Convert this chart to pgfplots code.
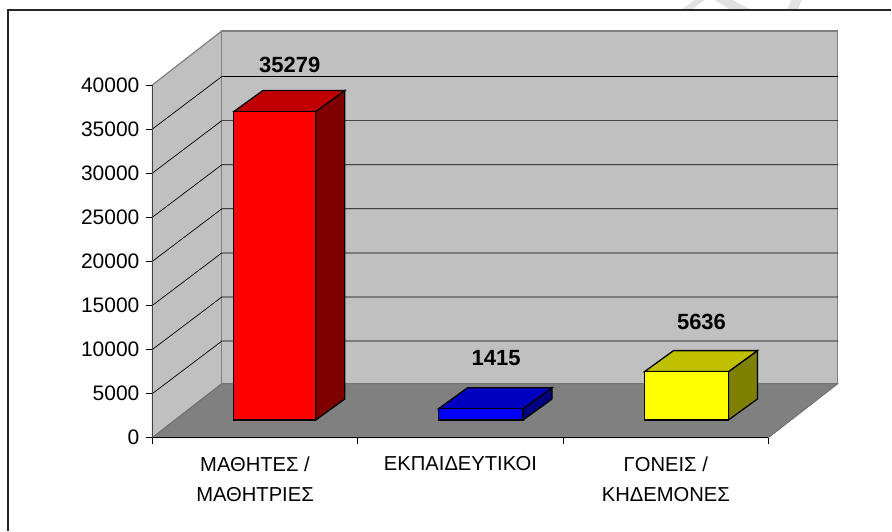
\documentclass[border=0pt]{standalone}
\usepackage{fontspec}
\setmainfont{Liberation Sans}
\usepackage{pgfplots}
\pgfplotsset{compat=1.18}
\definecolor{wall}{HTML}{C0C0C0}
\definecolor{floorc}{HTML}{808080}
\definecolor{wmark}{HTML}{E2E2E2}
\definecolor{baryellow}{HTML}{FFFF00}
\begin{document}
\begin{tikzpicture}[line join=miter]
\begin{axis}[
  scale only axis, width=616.5pt, height=353pt,
  xmin=152.5, xmax=769, ymin=0, ymax=40000,
  clip=false, axis on top,
  axis x line*=bottom, axis y line*=left,
  x axis line style={-, black, line width=0.9pt},
  y axis line style={-, black!75, line width=1.3pt},
  tick align=outside, major tick length=6.5pt,
  tick style={black, line width=0.8pt},
  xtick={152.5,358,563.5,769}, xticklabels={},
  extra x ticks={255.2,460.8,666.3},
  extra x tick labels={{ΜΑΘΗΤΕΣ /\\ΜΑΘΗΤΡΙΕΣ},{ΕΚΠΑΙΔΕΥΤΙΚΟΙ},{ΓΟΝΕΙΣ /\\ΚΗΔΕΜΟΝΕΣ}},
  extra x tick style={major tick length=0pt, tick style={draw=none}},
  xticklabel style={align=center, font=\fontsize{20.2}{30}\selectfont, yshift=-15.5pt},
  ytick={0,5000,...,40000},
  yticklabel style={font=\fontsize{21}{24}\selectfont, /pgf/number format/assume math mode=true, /pgf/number format/1000 sep={}, xshift=-3pt},
  scaled y ticks=false,
]
% page extent (pixel x, value y)
\addplot[draw=none] coordinates {(0,-10538) (892,-10538) (892,49630) (0,49630)} --cycle;
% watermark and outer frame
\addplot[fill=wmark, draw=none] coordinates {(683,48610) (693,48610) (705,49630) (695,49630)} --cycle;
\addplot[fill=wmark, draw=none] coordinates {(730,48610) (750,48610) (733,49630) (715,49630)} --cycle;
\addplot[fill=wmark, draw=none] coordinates {(788,48610) (799,48610) (802,49630) (792,49630)} --cycle;
\addplot[black!85, line width=1.3pt] coordinates {(8,-10538) (8,48497) (892,48497)};
% walls and floor
\addplot[fill=wall, draw=floorc, line width=1.2pt] coordinates {(152.5,0) (222,6119) (222,46119) (152.5,40000)} --cycle;
\addplot[fill=wall, draw=floorc, line width=1.2pt] coordinates {(222,6119) (838.5,6119) (838.5,46119) (222,46119)} --cycle;
\addplot[fill=floorc, draw=floorc!85!black, line width=0.8pt] coordinates {(152.5,0) (769,0) (838.5,6119) (222,6119)} --cycle;
% gridlines
\addplot[black, line width=0.7pt] coordinates {(152.5,5000) (222,10950) (838.5,10950)};
\addplot[black, line width=0.7pt] coordinates {(152.5,10000) (222,15950) (838.5,15950)};
\addplot[black, line width=0.7pt] coordinates {(152.5,15000) (222,20950) (838.5,20950)};
\addplot[black, line width=0.7pt] coordinates {(152.5,20000) (222,25950) (838.5,25950)};
\addplot[black, line width=0.7pt] coordinates {(152.5,25000) (222,30950) (838.5,30950)};
\addplot[black, line width=0.7pt] coordinates {(152.5,30000) (222,35950) (838.5,35950)};
\addplot[black, line width=0.7pt] coordinates {(152.5,35000) (222,40950) (838.5,40950)};
% red bar (35279)
\addplot[fill={rgb,255:red,128;green,0;blue,0}, draw=black, line width=1.3pt] coordinates {(316,2006) (345,4386) (345,39357) (316,36977)} --cycle;
\addplot[fill={rgb,255:red,192;green,0;blue,0}, draw=black, line width=1.3pt] coordinates {(234,36977) (316,36977) (345,39357) (263,39357)} --cycle;
\addplot[fill=red, draw=black, line width=1.3pt] coordinates {(234,2006) (316,2006) (316,36977) (234,36977)} --cycle;
% blue bar (1415)
\addplot[fill={rgb,255:red,0;green,0;blue,128}, draw=black, line width=1.3pt] coordinates {(523.5,2006) (552.5,4386) (552.5,5669) (523.5,3289)} --cycle;
\addplot[fill={rgb,255:red,0;green,0;blue,192}, draw=black, line width=1.3pt] coordinates {(439,3289) (523.5,3289) (552.5,5669) (468,5669)} --cycle;
\addplot[fill=blue, draw=black, line width=1.3pt] coordinates {(439,2006) (523.5,2006) (523.5,3289) (439,3289)} --cycle;
% yellow bar (5636)
\addplot[fill={rgb,255:red,128;green,128;blue,0}, draw=black, line width=1.3pt] coordinates {(729,2006) (758,4386) (758,9868) (729,7488)} --cycle;
\addplot[fill={rgb,255:red,192;green,192;blue,0}, draw=black, line width=1.3pt] coordinates {(645,7488) (729,7488) (758,9868) (674,9868)} --cycle;
\addplot[fill=baryellow, draw=black, line width=1.3pt] coordinates {(645,2006) (729,2006) (729,7488) (645,7488)} --cycle;
% value labels
\addplot[draw=none, mark=none, nodes near coords, point meta=explicit symbolic,
  nodes near coords style={anchor=center, inner sep=0pt, font=\fontsize{22}{24}\selectfont\bfseries, text=black}]
  table[meta=label] {
x y label
290 42265 35279
496.5 9065 1415
702 13144 5636
};
\end{axis}
\end{tikzpicture}
\end{document}
